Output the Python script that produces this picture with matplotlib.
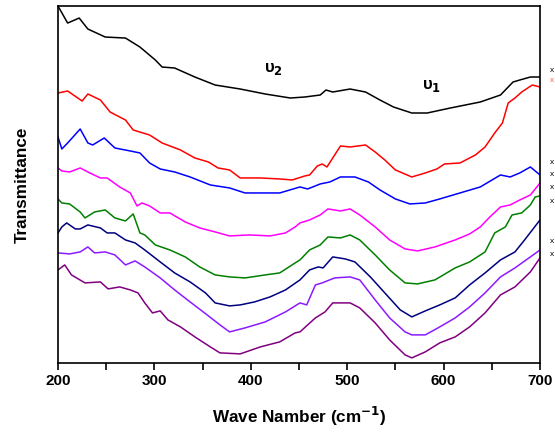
import matplotlib
matplotlib.use("Agg")
import matplotlib.pyplot as plt

plt.rcParams['font.family'] = ['Liberation Sans', 'DejaVu Sans']

# spectra (wave number, transmittance in arbitrary units)
wn_black = [200, 210, 222, 231, 249, 270, 285, 301, 308, 321, 342, 363, 389, 415, 441, 456,
            472, 478, 485, 503, 519, 534, 548, 567, 583, 607, 638, 659, 672, 679, 690, 700]
t_black = [357, 340, 345, 334, 326, 325, 316, 303, 296, 295, 286, 278, 274, 269, 265, 266,
           268, 273, 271, 274, 271, 263, 256, 250, 250, 255, 261, 268, 281, 283, 286, 286]

wn_red = [200, 210, 225, 231, 244, 254, 270, 278, 295, 308, 327, 342, 356, 366, 378, 389, 410,
          430, 443, 456, 461, 469, 474, 479, 487, 493, 503, 519, 529, 539, 550, 567, 581, 593,
          601, 617, 633, 643, 653, 661, 667, 674, 681, 692, 700]
t_red = [270, 272, 262, 269, 263, 251, 243, 233, 228, 220, 213, 205, 201, 195, 193, 185, 185,
         184, 183, 187, 188, 197, 199, 196, 208, 217, 216, 218, 211, 203, 193, 186, 190, 194,
         199, 200, 208, 216, 230, 240, 260, 265, 271, 278, 276]

wn_blue = [200, 204, 210, 223, 231, 236, 248, 259, 275, 285, 295, 306, 321, 337, 358, 378, 394,
           415, 430, 451, 459, 472, 482, 493, 508, 522, 534, 550, 565, 581, 596, 617, 638, 659,
           669, 679, 690, 700]
t_blue = [226, 214, 220, 234, 220, 218, 225, 215, 212, 210, 200, 194, 191, 186, 178, 175, 170,
          170, 170, 176, 174, 179, 181, 186, 186, 181, 173, 164, 159, 160, 164, 170, 176, 188,
          186, 190, 196, 188]

wn_magenta = [200, 204, 212, 223, 233, 244, 251, 264, 275, 282, 287, 295, 306, 316, 332, 347,
              363, 378, 399, 420, 436, 446, 451, 461, 472, 480, 493, 503, 513, 529, 544, 560,
              573, 591, 612, 627, 638, 648, 659, 669, 679, 690, 700]
t_magenta = [195, 192, 191, 195, 190, 185, 185, 176, 170, 157, 160, 157, 150, 150, 141, 135,
             131, 127, 128, 127, 130, 136, 140, 143, 148, 154, 152, 154, 148, 136, 123, 114,
             112, 116, 123, 129, 136, 146, 156, 158, 163, 168, 180]

wn_green = [200, 204, 212, 223, 228, 238, 249, 259, 270, 278, 285, 290, 301, 316, 332, 347,
            363, 378, 394, 415, 430, 446, 451, 461, 472, 480, 493, 503, 513, 529, 544, 560,
            573, 591, 612, 627, 643, 653, 664, 671, 681, 690, 695, 700]
t_green = [164, 160, 159, 151, 145, 151, 153, 145, 142, 149, 130, 128, 118, 113, 106, 96,
           88, 86, 85, 88, 90, 100, 103, 113, 118, 126, 125, 128, 123, 108, 93, 80,
           79, 83, 95, 101, 111, 130, 136, 148, 150, 158, 166, 167]

wn_navy = [200, 204, 209, 218, 223, 231, 244, 251, 259, 270, 280, 290, 306, 321, 337, 353,
           363, 378, 389, 404, 420, 436, 451, 461, 470, 475, 485, 498, 508, 524, 539, 555,
           567, 581, 596, 612, 627, 643, 659, 674, 684, 700]
t_navy = [130, 136, 140, 134, 134, 138, 135, 130, 130, 123, 120, 113, 101, 90, 81, 70,
          60, 57, 58, 61, 66, 73, 83, 93, 96, 95, 106, 104, 101, 86, 70, 53,
          46, 52, 58, 65, 78, 90, 103, 111, 123, 143]

wn_violet = [200, 212, 223, 231, 238, 249, 259, 270, 280, 290, 306, 321, 337, 352, 368, 378,
             394, 415, 436, 451, 458, 467, 474, 487, 503, 513, 529, 544, 560, 567, 581, 596,
             612, 627, 643, 659, 674, 690, 700]
t_violet = [110, 109, 111, 116, 110, 111, 108, 98, 102, 96, 85, 73, 61, 50, 38, 31,
            35, 41, 51, 60, 58, 78, 80, 85, 86, 83, 63, 45, 31, 28, 28, 36,
            45, 56, 70, 86, 95, 106, 113]

wn_purple = [200, 207, 214, 228, 244, 252, 264, 275, 283, 290, 298, 306, 314, 327, 342, 358,
             368, 389, 410, 430, 446, 451, 467, 477, 485, 503, 513, 529, 544, 560, 567, 581,
             596, 612, 627, 643, 659, 674, 690, 700]
t_purple = [93, 98, 88, 80, 81, 74, 76, 73, 70, 60, 50, 52, 43, 36, 26, 16,
            10, 9, 16, 21, 30, 31, 45, 51, 60, 60, 55, 40, 23, 8, 5, 11,
            20, 26, 36, 50, 68, 76, 91, 105]

colors = ['black', '#ff0000', '#0000ff', '#ff00ff', '#008000', '#000080', '#8c1aff', '#800080']

# small marks at the right edge of the picture (labels cut off in the original)
side_labels = ['x', 'x', 'x', 'x', 'x', 'x', 'x', 'x']
side_t = [293, 283, 200, 188, 175, 161, 121, 108]
side_colors = ['black', '#ff6030', 'black', 'black', 'black', 'black', 'black', 'black']

fig = plt.figure(figsize=(5.55, 4.32), dpi=100)
ax = fig.add_axes([0.1045, 0.16, 0.8685, 0.826])

curves = [(wn_black, t_black), (wn_red, t_red), (wn_blue, t_blue), (wn_magenta, t_magenta),
          (wn_green, t_green), (wn_navy, t_navy), (wn_violet, t_violet), (wn_purple, t_purple)]
for (w, t), c in zip(curves, colors):
    ax.plot(w, t, color=c, linewidth=1.1)

ax.set_xlim(200, 700)
ax.set_ylim(0, 357)
ax.set_xticks([200, 300, 400, 500, 600, 700])
ax.set_xticks([250, 350, 450, 550, 650], minor=True)
ax.set_yticks([])
ax.tick_params(axis='x', which='both', direction='out', length=5, width=1.2,
               labelsize=11, pad=3)
for lab in ax.get_xticklabels():
    lab.set_fontweight('bold')
for s in ax.spines.values():
    s.set_linewidth(1.2)

ax.set_xlabel('Wave Namber (cm$^{\\mathbf{-1}}$)', fontsize=12.3, fontweight='bold', labelpad=12)
ax.set_ylabel('Transmittance', fontsize=12.3, fontweight='bold', labelpad=20)

# band labels
ax.text(423, 294, 'υ$_{\\mathbf{2}}$', fontsize=12, fontweight='bold', ha='center', va='center')
ax.text(587, 277, 'υ$_{\\mathbf{1}}$', fontsize=12, fontweight='bold', ha='center', va='center')

for lab, t, c in zip(side_labels, side_t, side_colors):
    ax.text(710, t, lab, fontsize=6, color=c, ha='left', va='center', clip_on=False)

fig.savefig('out.png', dpi=100)
